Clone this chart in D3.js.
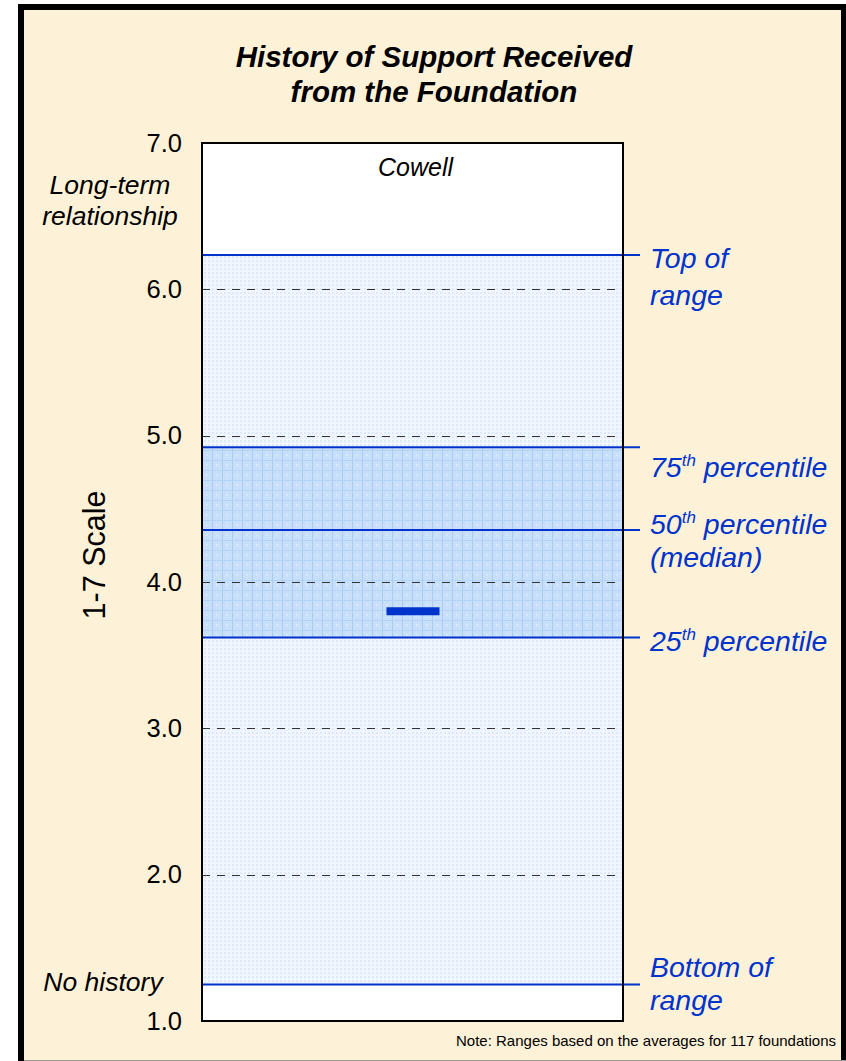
<!DOCTYPE html>
<html>
<head>
<meta charset="utf-8">
<script src="https://cdn.jsdelivr.net/npm/d3@7"></script>
<style>
  html, body { margin: 0; padding: 0; background: #ffffff; }
  svg { display: block; }
  text { font-family: "Liberation Sans", Arial, sans-serif; }
</style>
</head>
<body>
<svg id="chart" width="846" height="1061"></svg>
<script>
// Scale ticks (1-7 scale)
const yTicks = [1, 2, 3, 4, 5, 6, 7];
const gridTicks = [2, 3, 4, 5, 6];

// Distribution of averages across foundations
const rangeKeys = ["bottom", "p25", "p50", "p75", "top"];
const rangeValues = [1.25, 3.62, 4.355, 4.92, 6.235];

// Foundation being rated
const foundations = ["Cowell"];
const foundationScores = [3.80];

const W = 846, H = 1061;
const svg = d3.select("#chart");

// Frame
svg.append("rect").attr("x", 18).attr("y", 4).attr("width", 828).attr("height", 1057)
  .attr("fill", "#000");
svg.append("rect").attr("x", 24).attr("y", 10).attr("width", 817).attr("height", 1050)
  .attr("fill", "#FDF2D7");
svg.append("line").attr("x1", 24).attr("x2", 846).attr("y1", 1060.5).attr("y2", 1060.5)
  .attr("stroke", "#9a9a9a").attr("stroke-width", 1);

const plot = { left: 202, right: 623, top: 143, bottom: 1021 };
const y = d3.scaleLinear().domain([1, 7]).range([plot.bottom, plot.top]);
const byKey = Object.fromEntries(rangeKeys.map((k, i) => [k, rangeValues[i]]));

// Fill patterns
const defs = svg.append("defs");
const light = defs.append("pattern").attr("id", "lightFill")
  .attr("patternUnits", "userSpaceOnUse").attr("width", 4).attr("height", 4);
light.append("rect").attr("width", 4).attr("height", 4).attr("fill", "#F2F7FF");
light.append("rect").attr("width", 2).attr("height", 2).attr("fill", "#DCE9FB");
light.append("rect").attr("x", 2).attr("y", 2).attr("width", 1).attr("height", 1).attr("fill", "#E4EEFC");

const dark = defs.append("pattern").attr("id", "darkFill")
  .attr("patternUnits", "userSpaceOnUse").attr("width", 10).attr("height", 10)
  .attr("x", plot.left).attr("y", 0);
dark.append("rect").attr("width", 10).attr("height", 10).attr("fill", "#C8DFFA");
dark.append("rect").attr("width", 1).attr("height", 10).attr("fill", "#A9CBF4");
dark.append("rect").attr("width", 10).attr("height", 1).attr("fill", "#B4D2F6");
dark.append("rect").attr("x", 4).attr("y", 4).attr("width", 2).attr("height", 2).attr("fill", "#D6E7FC");

// Plot background
svg.append("rect").attr("x", plot.left).attr("y", plot.top)
  .attr("width", plot.right - plot.left).attr("height", plot.bottom - plot.top)
  .attr("fill", "#fff");

// Full range band
svg.append("rect").attr("x", plot.left).attr("y", y(byKey.top))
  .attr("width", plot.right - plot.left).attr("height", y(byKey.bottom) - y(byKey.top))
  .attr("fill", "url(#lightFill)");

// Interquartile band
svg.append("rect").attr("x", plot.left).attr("y", y(byKey.p75))
  .attr("width", plot.right - plot.left).attr("height", y(byKey.p25) - y(byKey.p75))
  .attr("fill", "url(#darkFill)");

// Dashed gridlines
svg.append("g").selectAll("line").data(gridTicks).join("line")
  .attr("x1", plot.left).attr("x2", plot.right)
  .attr("y1", d => Math.round(y(d)) + 0.5).attr("y2", d => Math.round(y(d)) + 0.5)
  .attr("stroke", "#333").attr("stroke-width", 1).attr("stroke-dasharray", "8,7");

// Range lines, extended past the plot edge
const blue = "#0033CC";
svg.append("g").selectAll("line").data(rangeValues).join("line")
  .attr("x1", plot.left).attr("x2", 640)
  .attr("y1", d => y(d)).attr("y2", d => y(d))
  .attr("stroke", blue).attr("stroke-width", 2);

// Plot border
svg.append("rect").attr("x", plot.left).attr("y", plot.top)
  .attr("width", plot.right - plot.left).attr("height", plot.bottom - plot.top)
  .attr("fill", "none").attr("stroke", "#000").attr("stroke-width", 2);

// Foundation marker
const x = d3.scaleBand().domain(foundations).range([plot.left, plot.right]);
svg.append("g").selectAll("rect").data(foundations).join("rect")
  .attr("x", d => x(d) + x.bandwidth() / 2 - 26)
  .attr("y", (d, i) => y(foundationScores[i]) - 4)
  .attr("width", 53).attr("height", 8)
  .attr("fill", "#0033CC");

svg.append("g").selectAll("text").data(foundations).join("text")
  .attr("x", d => x(d) + x.bandwidth() / 2 + 3).attr("y", 176)
  .attr("text-anchor", "middle").attr("font-style", "italic").attr("font-size", 25)
  .attr("fill", "#000").text(d => d);

// Y axis labels
const yAxis = d3.axisLeft(y).tickValues(yTicks).tickFormat(d3.format(".1f")).tickSize(0).tickPadding(20);
const ag = svg.append("g").attr("transform", `translate(${plot.left},0)`).call(yAxis);
ag.select(".domain").remove();
ag.selectAll("text").attr("font-size", 25.5).attr("fill", "#000")
  .attr("font-family", "'Liberation Sans', Arial, sans-serif");

// Scale anchors
const anchorText = (lines, cx, y0, dy) => {
  const t = svg.append("text").attr("text-anchor", "middle").attr("font-style", "italic")
    .attr("font-size", 26.5).attr("fill", "#000");
  lines.forEach((l, i) => t.append("tspan").attr("x", cx).attr("y", y0 + i * dy).text(l));
};
anchorText(["Long-term", "relationship"], 110, 194, 31);
anchorText(["No history"], 103, 991, 0);

// Axis title
svg.append("text").attr("transform", "translate(105,555) rotate(-90)")
  .attr("text-anchor", "middle").attr("font-size", 30.5).attr("fill", "#000").text("1-7 Scale");

// Chart title
const title = svg.append("text").attr("text-anchor", "middle").attr("font-weight", "bold")
  .attr("font-style", "italic").attr("font-size", 29.5).attr("fill", "#000");
title.append("tspan").attr("x", 434).attr("y", 67).text("History of Support Received");
title.append("tspan").attr("x", 434).attr("y", 102).text("from the Foundation");

// Range labels
const lab = svg.append("g").attr("fill", blue).attr("font-style", "italic").attr("font-size", 28.5);
function rangeLabel(parts, yy) {
  const t = lab.append("text").attr("x", 650).attr("y", yy);
  parts.forEach(p => {
    const s = t.append("tspan").text(p.t);
    if (p.sup) s.attr("font-size", 17).attr("dy", -11);
    if (p.down) s.attr("dy", 11);
  });
  return t;
}
rangeLabel([{ t: "Top of" }], 268);
rangeLabel([{ t: "range" }], 305);
rangeLabel([{ t: "75" }, { t: "th", sup: true }, { t: " percentile", down: true }], 477);
rangeLabel([{ t: "50" }, { t: "th", sup: true }, { t: " percentile", down: true }], 534);
rangeLabel([{ t: "(median)" }], 567);
rangeLabel([{ t: "25" }, { t: "th", sup: true }, { t: " percentile", down: true }], 651);
rangeLabel([{ t: "Bottom of" }], 977);
rangeLabel([{ t: "range" }], 1010);

// Footnote
svg.append("text").attr("x", 836).attr("y", 1046).attr("text-anchor", "end")
  .attr("font-size", 15).attr("fill", "#000")
  .text("Note: Ranges based on the averages for 117 foundations");
</script>
</body>
</html>
